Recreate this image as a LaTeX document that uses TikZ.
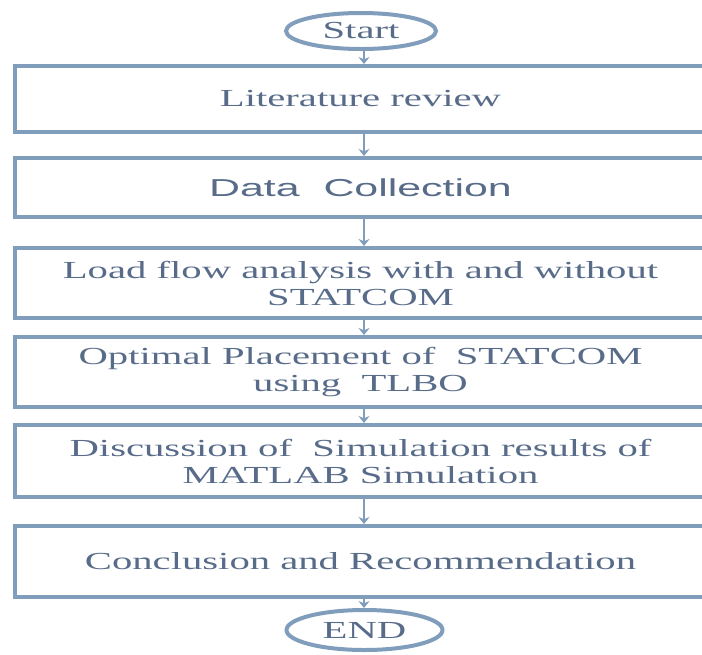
\documentclass[tikz,border=0pt]{standalone}
\usepackage{fontspec}
\setmainfont[FakeStretch=1.66]{Liberation Serif}
\newfontfamily\arialx[FakeStretch=1.75]{Liberation Sans}
\usetikzlibrary{arrows.meta,shapes.geometric}
\definecolor{edge}{RGB}{128,158,188}
\definecolor{txt}{RGB}{88,108,138}
\begin{document}
\begin{tikzpicture}[x=1pt,y=-1pt,
  box/.style={draw=edge, line width=4pt, minimum width=691pt, minimum height=#1,
    inner sep=0pt, align=center, text=txt, font=\fontsize{24.5}{27}\selectfont},
  term/.style={ellipse, draw=edge, line width=4pt, minimum width=#1, minimum height=36pt,
    inner sep=0pt, text=txt, font=\fontsize{24.5}{27}\selectfont},
  flow/.style={draw=edge, line width=2pt, -{Stealth[length=7pt,width=11pt]}}]
\useasboundingbox (0,0) rectangle (702,654);
\clip (0,0) rectangle (702,654);
\fill[white] (0,0) rectangle (702,654);
\coordinate (ax) at (364,0);
\node[term=150pt] (start) at (361,31) {Start};
\node[box=66pt] (b1) at (360.5,99) {Literature review};
\node[box=59pt] (b2) at (360.5,187.5) {\arialx Data\ \ Collection};
\node[box=70pt] (b3) at (360.5,283) {Load flow analysis with and without\\STATCOM};
\node[box=70pt] (b4) at (360.5,372) {Optimal Placement of\ \ STATCOM\\using\ \ TLBO};
\node[box=72pt] (b5) at (360.5,461) {Discussion of\ \ Simulation results of\\MATLAB Simulation};
\node[box=71pt] (b6) at (360.5,561.5) {Conclusion and Recommendation};
\node[term=156pt, minimum height=40pt] (end) at (364.5,630) {END};
\draw[flow] (start.south -| ax) -- (b1.north -| ax);
\draw[flow] (b1.south -| ax) -- (b2.north -| ax);
\draw[flow] (b2.south -| ax) -- (b3.north -| ax);
\draw[flow] (b3.south -| ax) -- (b4.north -| ax);
\draw[flow] (b4.south -| ax) -- (b5.north -| ax);
\draw[flow] (b5.south -| ax) -- (b6.north -| ax);
\draw[flow] (b6.south -| ax) -- (end.north -| ax);
\end{tikzpicture}
\end{document}
